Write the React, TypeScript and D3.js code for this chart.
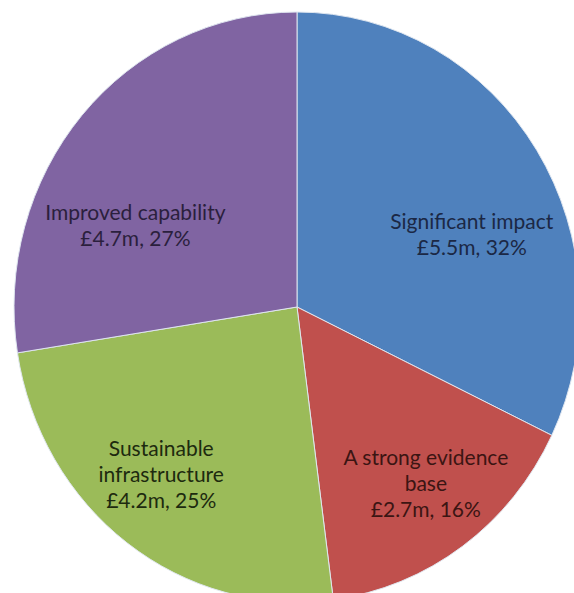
import React from "react";
import * as d3 from "d3";

const categories = ["Significant impact", "A strong evidence base", "Sustainable infrastructure", "Improved capability"];
const values = [5.5, 2.7, 4.2, 4.7];
const percents = [32, 16, 25, 27];
const labelLines = [
  ["Significant impact"],
  ["A strong evidence", "base"],
  ["Sustainable", "infrastructure"],
  ["Improved capability"],
];
const colors = ["#4F81BD", "#C0504D", "#9BBB59", "#8064A2"];
const textColors = ["#1b2845", "#3b1513", "#1d2a0f", "#2b1f3d"];

const W = 574;
const H = 593;
const CX = 297;
const CY = 307;
const RY = 295;
const RX = 283;
const labelOffsets: [number, number][] = [
  [7, 38],
  [13, 9],
  [-17, 3],
  [-11, 53],
];

export default function App() {
  const pie = d3.pie<number>().sort(null).value((d) => d);
  const arcs = pie(values);
  const arc = d3.arc<d3.PieArcDatum<number>>().innerRadius(0).outerRadius(RY);
  const labelArc = d3.arc<d3.PieArcDatum<number>>().innerRadius(RY * 0.7).outerRadius(RY * 0.7);
  const sx = RX / RY;
  const fontSize = 21;
  const lh = 26;
  return (
    <svg width={W} height={H} style={{ position: "absolute", left: 0, top: 0, background: "#fff" }}>
      <g transform={`translate(${CX},${CY}) scale(${sx},1)`}>
        {arcs.map((a, i) => (
          <path key={categories[i]} d={arc(a) || ""} fill={colors[i]} stroke="#dfe6f0" strokeWidth={1} />
        ))}
      </g>
      {arcs.map((a, i) => {
        const c = labelArc.centroid(a);
        const x = CX + c[0] * sx + labelOffsets[i][0];
        const y = CY + c[1] + labelOffsets[i][1];
        const lines = [...labelLines[i], `£${values[i].toFixed(1)}m, ${percents[i]}%`];
        const n = lines.length;
        return (
          <text
            key={categories[i]}
            textAnchor="middle"
            fontFamily="Lato, 'Open Sans', sans-serif"
            fontSize={fontSize}
            fill={textColors[i]}
          >
            {lines.map((ln, j) => (
              <tspan key={j} x={x} y={y + (j - (n - 1) / 2) * lh + 7}>
                {ln}
              </tspan>
            ))}
          </text>
        );
      })}
    </svg>
  );
}
